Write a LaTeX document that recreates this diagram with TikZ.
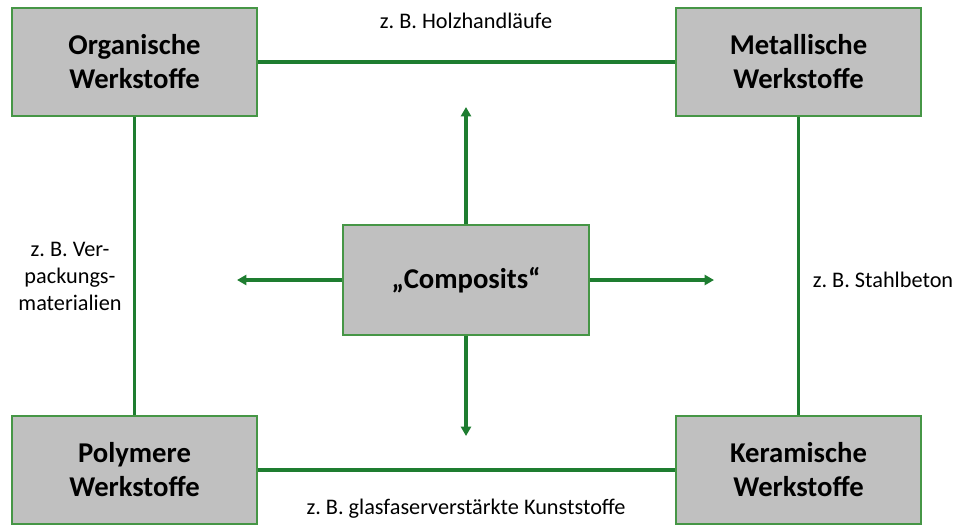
\documentclass[tikz,border=0pt]{standalone}
\usepackage{fontspec}
\setmainfont{Carlito}
\frenchspacing
\usetikzlibrary{arrows.meta}
\definecolor{linegreen}{RGB}{30,125,48}
\definecolor{boxgreen}{RGB}{70,150,70}
\definecolor{boxgray}{RGB}{192,192,192}
\tikzset{
  matbox/.style={draw=boxgreen, line width=1.2pt, fill=boxgray,
    minimum width=245*0.75pt, minimum height=108*0.75pt, inner sep=0pt,
    align=center, font=\fontsize{21.5}{25.5}\selectfont\bfseries},
  link/.style={draw=linegreen, line width=2.6pt},
  outarrow/.style={link, -{Triangle[length=7pt,width=7.5pt]}},
  note/.style={align=center, font=\fontsize{16.7}{20}\selectfont, inner sep=0pt}
}
\begin{document}
\begin{tikzpicture}[x=0.75pt, y=-0.75pt]
\useasboundingbox (0,0) rectangle (960,526);
% four material classes in the corners
\node[matbox] (org) at (134.5,62) {Organische\\Werkstoffe};
\node[matbox] (met) at (798.5,62) {Metallische\\Werkstoffe};
\node[matbox] (pol) at (134.5,470) {Polymere\\Werkstoffe};
\node[matbox] (ker) at (798.5,470) {Keramische\\Werkstoffe};
% composites in the middle
\node[matbox, minimum width=246*0.75pt, minimum height=110*0.75pt] (comp) at (466,280) {„Composits“};
% frame connectors
\draw[link] (org.east) -- (met.west);
\draw[link] (pol.east) -- (ker.west);
\draw[link] (org.south) -- (pol.north);
\draw[link] (met.south) -- (ker.north);
% arrow ends
\coordinate (up) at (466,107);
\coordinate (down) at (466,436);
\coordinate (left) at (237,280);
\coordinate (right) at (714,280);
\draw[outarrow] (comp.north) -- (up);
\draw[outarrow] (comp.south) -- (down);
\draw[outarrow] (comp.west) -- (left);
\draw[outarrow] (comp.east) -- (right);
% example labels
\node[note] (n1) at (466,21) {z. B. Holzhandläufe};
\node[note] (n2) at (883,280) {z. B. Stahlbeton};
\node[note, font=\fontsize{16.7}{20.2}\selectfont] (n3) at (70,276) {z. B. Ver-\\packungs-\\materialien};
\node[note] (n4) at (466,509) {z. B. glasfaserverstärkte Kunststoffe};
\end{tikzpicture}
\end{document}
